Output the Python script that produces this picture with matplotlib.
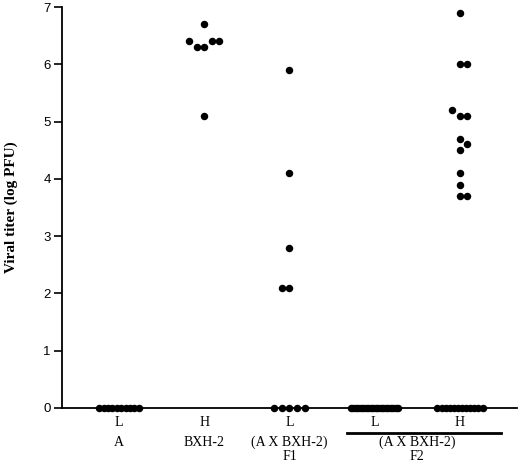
import numpy as np
import matplotlib
matplotlib.use("Agg")
import matplotlib.pyplot as plt
import matplotlib.transforms as mtransforms

# titer values (log PFU) per group, zeros included
a_low = [0] * 10
bxh2_high = [6.7, 6.4, 6.4, 6.4, 6.3, 6.3, 5.1]
f1_low = [5.9, 4.1, 2.8, 2.1, 2.1, 0, 0, 0, 0, 0]
f2_low = [0] * 20
f2_high = [6.9, 6.0, 6.0, 5.2, 5.1, 5.1, 4.7, 4.6, 4.5, 4.1, 3.9, 3.7, 3.7] + [0] * 12

groups = [a_low, bxh2_high, f1_low, f2_low, f2_high]
phenotype_labels = ["L", "H", "L", "L", "H"]
strain_labels = ["A", "BXH-2", "(A X BXH-2)", None, None]
generation_labels = [None, None, "F1", None, None]

# spacing (pixels) of the zero-valued dots on the baseline
zero_spacing = [4.4, 7.7, 7.7, 2.5, 4.1]
# side the swarm grows to first
swarm_side = [-1, -1, -1, -1, 1]

DOT = 7.5  # dot diameter in pixels

fig = plt.figure(figsize=(5.2, 4.63), dpi=100)
ax = fig.add_axes([62 / 520, 1 - 408 / 463, 455 / 520, 401 / 463])
ax.set_xlim(1 - 57 / 85.25, 5 + 57 / 85.25)
ax.set_ylim(0, 7)

px_x = 455 / (ax.get_xlim()[1] - ax.get_xlim()[0])
px_y = 401 / 7.0


def swarm(values, side):
    """place nonzero values side by side so that dots do not overlap"""
    placed = []
    out = []
    k_order = [0]
    for n in range(1, 5):
        k_order += [side * n, -side * n]
    for v in sorted(values):
        for k in k_order:
            ok = True
            for (pk, pv) in placed:
                d = np.hypot((k - pk) * DOT, (v - pv) * px_y)
                if d < DOT - 1e-6:
                    ok = False
                    break
            if ok:
                placed.append((k, v))
                out.append((k * DOT, v))
                break
    return out


for i, vals in enumerate(groups):
    xc = i + 1
    nz = [v for v in vals if v != 0]
    nzero = len(vals) - len(nz)
    xs, ys = [], []
    for off, v in swarm(nz, swarm_side[i]):
        xs.append(xc + off / px_x)
        ys.append(v)
    if nzero:
        offs = (np.arange(nzero) - (nzero - 1) / 2) * zero_spacing[i]
        xs.extend(xc + offs / px_x)
        ys.extend([0] * nzero)
    ax.scatter(xs, ys, s=29, color="black", linewidths=0, clip_on=False, zorder=3)

for side in ["top", "right"]:
    ax.spines[side].set_visible(False)
ax.spines["left"].set_linewidth(1.3)
ax.spines["bottom"].set_linewidth(1.3)
ax.set_xticks([])
ax.set_yticks(range(0, 8))
ax.tick_params(axis="y", direction="out", length=6, width=1.2, pad=2,
               labelsize=9.5)
for lab in ax.get_yticklabels():
    lab.set_family("Liberation Sans")

ax.set_ylabel("Viral titer (log PFU)", family="Liberation Serif",
              fontweight="bold", fontsize=11, labelpad=18)

trans = mtransforms.blended_transform_factory(ax.transData, ax.transAxes)
serif = dict(family="Liberation Serif", fontsize=10, ha="center", va="center")
for i, lab in enumerate(phenotype_labels):
    ax.text(i + 1, -15 / 401, lab, transform=trans, **serif)
for i, lab in enumerate(strain_labels):
    if lab:
        ax.text(i + 1, -34 / 401, lab, transform=trans, **serif)
for i, lab in enumerate(generation_labels):
    if lab:
        ax.text(i + 1, -49 / 401, lab, transform=trans, **serif)
ax.text(4.5, -34 / 401, "(A X BXH-2)", transform=trans, **serif)
ax.text(4.5, -49 / 401, "F2", transform=trans, **serif)
ax.plot([4 - 28 / px_x, 5 + 41 / px_x], [-25 / 401, -25 / 401], transform=trans,
        color="black", linewidth=2, clip_on=False)

fig.savefig("out.png", dpi=100, facecolor="white")
